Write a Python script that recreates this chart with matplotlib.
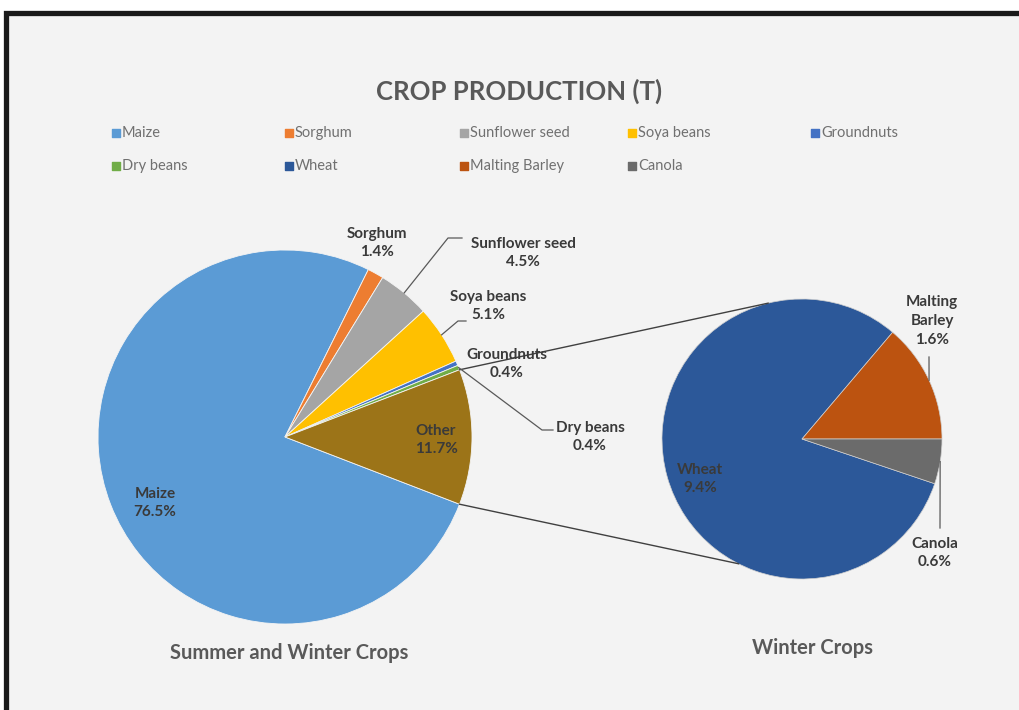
import matplotlib.pyplot as plt
from matplotlib.patches import Rectangle
import numpy as np

plt.rcParams['font.family'] = ['Lato', 'DejaVu Sans']

# data
main_labels = ['Maize', 'Sorghum', 'Sunflower seed', 'Soya beans', 'Groundnuts', 'Dry beans', 'Other']
main_values = [76.5, 1.4, 4.5, 5.1, 0.4, 0.4, 11.7]
main_colors = ['#5B9BD5', '#ED7D31', '#A5A5A5', '#FFC000', '#4472C4', '#70AD47', '#9C7418']

winter_labels = ['Wheat', 'Malting Barley', 'Canola']
winter_values = [9.4, 1.6, 0.6]
winter_colors = ['#2C5899', '#BC5310', '#6B6B6B']

W, H = 1019, 710


def Y(y):
    # pixel row (from top) -> data y
    return H - y


fig = plt.figure(figsize=(W / 100, H / 100), dpi=100, facecolor='white')
ax = fig.add_axes([0, 0, 1, 1])

# chart area with black frame on top / left
ax.add_patch(Rectangle((6.5, -20), 1060, Y(12.5) + 20, facecolor='#F3F3F3',
                       edgecolor='#1a1a1a', lw=3.8, zorder=0))

c1, r1 = (285, Y(437)), 187
c2, r2 = (802, Y(439)), 140

w1, _ = ax.pie(main_values, colors=main_colors, center=c1, radius=r1,
               startangle=-main_values[-1] * 1.8, counterclock=False,
               wedgeprops=dict(edgecolor='#f4f4f4', lw=0.6))
tot2 = sum(winter_values)
w2, _ = ax.pie(winter_values, colors=winter_colors, center=c2, radius=r2,
               startangle=-winter_values[-1] / tot2 * 360, counterclock=False,
               wedgeprops=dict(edgecolor='#d0d0d0', lw=0.5))


def edge_pt(center, r, ang):
    a = np.radians(ang)
    return center[0] + r * np.cos(a), center[1] + r * np.sin(a)


def mid(w):
    return (w.theta1 + w.theta2) / 2


# pie-of-pie connector lines
other = w1[-1]
for a1, a2 in [(other.theta2, 104), (other.theta1, 243)]:
    p = edge_pt(c1, r1, a1)
    q = edge_pt(c2, r2, a2)
    ax.plot([p[0], q[0]], [p[1], q[1]], color='#404040', lw=1.0, zorder=1)

lab_kw = dict(ha='center', va='center', fontsize=11, fontweight='bold',
              color='#3a3a3a', linespacing=1.45, zorder=5)


def pct(v):
    return f'{v}%'


# main pie labels (pixel positions of label centres)
main_pos = [(155, 503), (377, 243), (523, 253), (488, 306), (507, 364), (590, 437), (436, 440)]
for name, v, (x, y) in zip(main_labels, main_values, main_pos):
    ax.text(x, Y(y), f'{name}\n{pct(v)}', **lab_kw)

winter_pos = [(700, 479), (932, 321), (935, 553)]
winter_text = ['Wheat', 'Malting\nBarley', 'Canola']
for t, v, (x, y) in zip(winter_text, winter_values, winter_pos):
    ax.text(x, Y(y), f'{t}\n{pct(v)}', **lab_kw)

# leader lines
lead_kw = dict(color='#595959', lw=0.9, zorder=4)
leaders = [
    (w1[2], c1, r1, [(448, 238), (462, 238)]),
    (w1[3], c1, r1, [(458, 321), (466, 321)]),
    (w1[5], c1, r1, [(542, 430), (553, 430)]),
    (w2[1], c2, r2, [(929, 357)]),
    (w2[2], c2, r2, [(940, 528)]),
]
for w, c, r, pts in leaders:
    p = edge_pt(c, r, mid(w))
    xs = [p[0]] + [q[0] for q in pts]
    ys = [p[1]] + [Y(q[1]) for q in pts]
    ax.plot(xs, ys, **lead_kw)

# title and pie captions
ax.text(519, Y(91), 'CROP PRODUCTION (T)', ha='center', va='center', fontsize=18.5,
        fontweight='bold', color='#595959')
ax.text(289, Y(653), 'Summer and Winter Crops', ha='center', va='center', fontsize=14.5,
        fontweight='bold', color='#595959')
ax.text(813, Y(648), 'Winter Crops', ha='center', va='center', fontsize=14.5,
        fontweight='bold', color='#595959')

# legend
leg_names = main_labels[:-1] + winter_labels
leg_colors = main_colors[:-1] + winter_colors
col_x = [116, 289, 464, 632, 815]
row_y = [133, 166]
for i, (n, col) in enumerate(zip(leg_names, leg_colors)):
    x, y = col_x[i % 5], row_y[i // 5]
    ax.scatter([x], [Y(y)], marker='s', s=30, color=col, zorder=5)
    ax.text(x + 6, Y(y), n, ha='left', va='center', fontsize=10.5, color='#707070')

ax.set_xlim(0, W)
ax.set_ylim(0, H)
ax.set_aspect('equal')
ax.axis('off')

fig.savefig('out.png', dpi=100, facecolor='white')
